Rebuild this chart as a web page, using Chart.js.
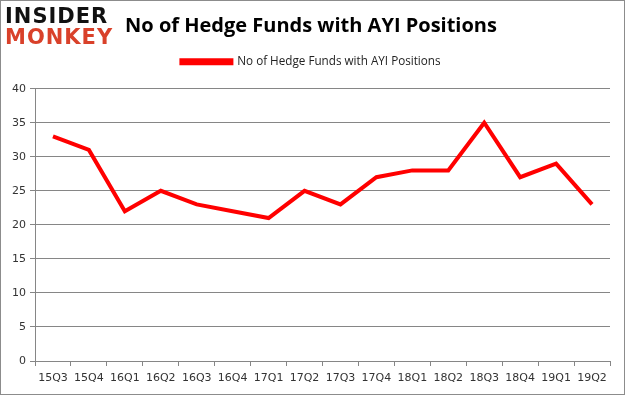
<!DOCTYPE html>
<html lang="en-US">
<head>
  <meta charset="utf-8">
  <title>No of Hedge Funds with AYI Positions</title>
  <script src="https://cdn.jsdelivr.net/npm/chart.js@4/dist/chart.umd.min.js"></script>
  <style>
    html, body { margin: 0; padding: 0; background: #fff; }
    .frame { position: relative; width: 625px; height: 395px; }
    .frame canvas { position: absolute; left: 0; top: 0; }
    .border { position: absolute; left: 0; top: 0; width: 625px; height: 395px; box-sizing: border-box; border: 1px solid #8c8c8c; pointer-events: none; }
    .logo { position: absolute; left: 5px; top: 6px; font-family: "DejaVu Sans", sans-serif; font-weight: bold; font-size: 21px; line-height: 21px; letter-spacing: 1px; }
    .logo .a { color: #111; }
    .logo .b { color: #d9412a; }
  </style>
</head>
<body>
  <div class="frame">
    <canvas id="chart-0" width="625" height="395"></canvas>
    <div class="logo"><div class="a">INSIDER</div><div class="b">MONKEY</div></div>
    <div class="border"></div>
  </div>

  <script>
    let quarters = ['15Q3', '15Q4', '16Q1', '16Q2', '16Q3', '16Q4', '17Q1', '17Q2',
                    '17Q3', '17Q4', '18Q1', '18Q2', '18Q3', '18Q4', '19Q1', '19Q2'];
    let hedgeFunds = [33, 31, 22, 25, 23, 22, 21, 25, 23, 27, 28, 28, 35, 27, 29, 23];
    let yTicks = [0, 5, 10, 15, 20, 25, 30, 35, 40];

    let gridColor = '#868686';

    let chart = new Chart('chart-0', {
      type: 'line',
      data: {
        labels: quarters,
        datasets: [{
          label: 'No of Hedge Funds with AYI Positions',
          data: hedgeFunds,
          borderColor: '#ff0000',
          backgroundColor: '#ff0000',
          borderWidth: 4,
          pointRadius: 0,
          tension: 0,
          fill: false
        }]
      },
      options: {
        responsive: false,
        animation: false,
        layout: { padding: { left: 12, right: 15, top: 0, bottom: 0 } },
        plugins: {
          title: {
            display: true,
            text: 'No of Hedge Funds with AYI Positions',
            color: '#000',
            font: { family: 'Open Sans', size: 20, weight: 'bold' },
            padding: { top: 14, bottom: 8 }
          },
          // empty subtitle used as a spacer between legend and plot
          subtitle: {
            display: true,
            text: '',
            weight: 500,
            font: { size: 11, lineHeight: 1 },
            padding: 0
          },
          legend: {
            position: 'top',
            labels: {
              color: '#222',
              font: { family: 'Open Sans', size: 11.7 },
              boxWidth: 50,
              boxHeight: 3,
              padding: 10
            }
          },
          tooltip: { enabled: false }
        },
        scales: {
          x: {
            offset: true,
            grid: { offset: true, drawOnChartArea: false, color: gridColor, tickLength: 5 },
            border: { color: gridColor },
            ticks: { color: '#333', font: { family: 'DejaVu Sans', size: 11 }, maxRotation: 0, autoSkip: false, padding: 6 },
            afterFit: function(scale) { scale.height = 34; }
          },
          y: {
            min: 0,
            max: 40,
            afterBuildTicks: function(scale) { scale.ticks = yTicks.map(v => ({ value: v })); },
            grid: { color: gridColor, tickLength: 5 },
            border: { color: gridColor },
            ticks: { color: '#333', font: { family: 'DejaVu Sans', size: 11 }, padding: 4 },
            afterFit: function(scale) { scale.width = 23; }
          }
        }
      }
    });
  </script>
</body>
</html>
